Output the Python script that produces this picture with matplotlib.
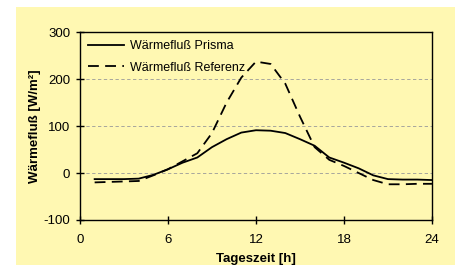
import matplotlib.pyplot as plt
from matplotlib.patches import Rectangle

# Data
hours = list(range(1, 25))
prisma = [-13, -13, -13, -12, -4, 8, 22, 33, 55, 72, 86, 91,
          90, 85, 72, 58, 33, 22, 10, -5, -13, -14, -14, -15]
referenz = [-20, -19, -18, -17, -5, 8, 25, 42, 85, 150, 203, 237,
            232, 190, 120, 55, 28, 15, 0, -15, -24, -24, -23, -23]
xticks = [0, 6, 12, 18, 24]
yticks = [-100, 0, 100, 200, 300]

plt.rcParams["font.family"] = "Liberation Sans"
plt.rcParams["axes.unicode_minus"] = False
bg = "#FFF8B2"

fig = plt.figure(figsize=(4.61, 2.75), dpi=100, facecolor="white")
fig.patches.append(Rectangle((0.035, 0.036), 0.952, 0.939, transform=fig.transFigure,
                             facecolor=bg, edgecolor="none", zorder=-10))
ax = fig.add_axes([0.1735, 0.2, 0.7635, 0.6836])
ax.set_facecolor(bg)
ax.set_zorder(1)

ax.plot(hours, prisma, color="black", lw=1.3, label="Wärmefluß Prisma")
ax.plot(hours, referenz, color="black", lw=1.3, dashes=(6, 3.5), label="Wärmefluß Referenz")

ax.set_xlim(0, 24)
ax.set_ylim(-100, 300)
ax.set_xticks(xticks)
ax.set_yticks(yticks)
ax.tick_params(direction="inout", length=6, width=1, labelsize=9.5)
ax.tick_params(axis="x", pad=7)
ax.tick_params(axis="y", pad=4)

for y in [0, 100, 200]:
    ax.axhline(y, color="#999999", lw=0.6, dashes=(4, 3), zorder=0.5)

for s in ax.spines.values():
    s.set_linewidth(1.0)

ax.set_xlabel("Tageszeit [h]", fontsize=9.5, fontweight="bold", labelpad=5)
ax.set_ylabel("Wärmefluß [W/m²]", fontsize=9.5, fontweight="bold", labelpad=2)

ax.legend(loc="upper left", frameon=False, fontsize=9, handlelength=2.9,
          handletextpad=0.45, labelspacing=0.75, borderaxespad=0.35,
          borderpad=0.3)

fig.savefig("out.png", dpi=100, facecolor="white")
